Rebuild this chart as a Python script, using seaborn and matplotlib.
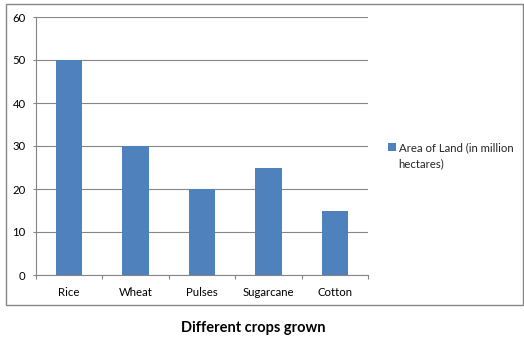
import matplotlib
matplotlib.use("Agg")
import matplotlib.pyplot as plt
import matplotlib.patches as mpatches
import seaborn as sns
import pandas as pd

crops = ["Rice", "Wheat", "Pulses", "Sugarcane", "Cotton"]
area = [50, 30, 20, 25, 15]
series_name = "Area of Land (in million\nhectares)"
yticks = [0, 10, 20, 30, 40, 50, 60]
title = "Different crops grown"

BAR = "#4F81BD"
GRID = "#868686"
TEXT = "#000000"

sns.set_theme(style="white")
plt.rcParams["font.family"] = ["Lato", "DejaVu Sans"]

W, H = 524, 343
fig = plt.figure(figsize=(W / 100, H / 100), dpi=100)

# chart border
fig.add_artist(mpatches.Rectangle((6 / W, 1 - 305 / H), (523 - 6) / W, (305 - 4) / H,
                                  transform=fig.transFigure, fill=False,
                                  edgecolor=GRID, linewidth=1.0))

ax = fig.add_axes([36 / W, 1 - 275 / H, (368 - 36) / W, (275 - 17) / H])
df = pd.DataFrame({"crop": crops, "area": area})
sns.barplot(data=df, x="crop", y="area", color=BAR, saturation=1, width=0.4,
            linewidth=0, label=series_name, ax=ax)

ax.set_ylim(0, 60)
ax.set_xlim(-0.5, len(crops) - 0.5)
ax.set_yticks(yticks)
ax.set_yticklabels([str(v) for v in yticks])
ax.yaxis.grid(True, color=GRID, linewidth=0.8)
ax.set_axisbelow(True)
ax.set_xlabel("")
ax.set_ylabel("")
for s in ["top", "right"]:
    ax.spines[s].set_visible(False)
for s in ["left", "bottom"]:
    ax.spines[s].set_color(GRID)
    ax.spines[s].set_linewidth(0.8)

ax.tick_params(axis="y", length=2.5, color=GRID, width=0.8, pad=5, labelsize=8.2, labelcolor=TEXT, left=True)
ax.tick_params(axis="x", which="major", length=0, pad=9, labelsize=8.2, labelcolor=TEXT, bottom=True)
ax.set_xticks([i - 0.5 for i in range(len(crops) + 1)], minor=True)
ax.tick_params(axis="x", which="minor", length=3, color=GRID, width=0.8, bottom=True)

leg = ax.legend(loc="upper left", bbox_to_anchor=(382 / W, 1 - 137 / H),
                bbox_transform=fig.transFigure, frameon=False, fontsize=8.2,
                handlelength=0.75, handleheight=0.75, handletextpad=0.2, borderpad=0)
for t in leg.get_texts():
    t.set_linespacing(1.55)
# keep the swatch beside the first text line
for col in leg._legend_handle_box.get_children():
    for item in col.get_children():
        item.align = "top"

fig.text(253 / W, 1 - 328 / H, title, ha="center", va="center",
         fontsize=10.5, fontweight="bold", color=TEXT)

fig.savefig("out.png", dpi=100, facecolor="white")
